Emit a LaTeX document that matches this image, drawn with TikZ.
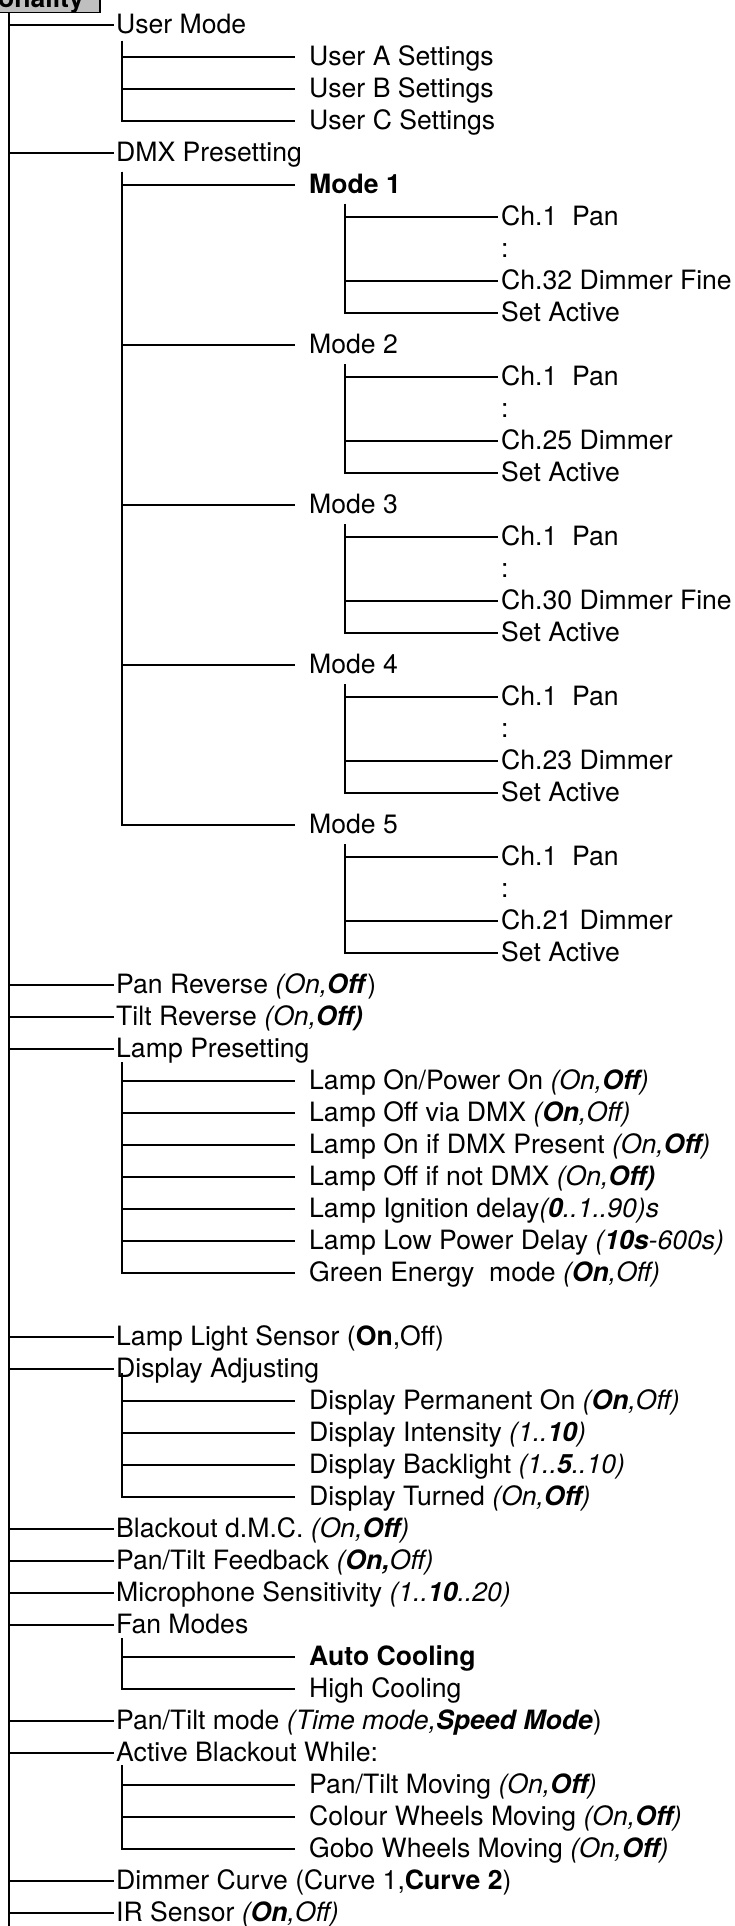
\documentclass[tikz,border=0pt]{standalone}
\usepackage{fontspec}
\setmainfont{TeX Gyre Heros}
\begin{document}
\begin{tikzpicture}[x=1pt,y=-1pt,
  lbl/.style={anchor=west,inner sep=0pt,text height=19pt,text depth=2pt,font=\fontsize{26.6}{32}\selectfont},
  conn/.style={line width=2.6pt},
  hdrbox/.style={draw=black,line width=1.3pt,fill=black!25}]
\useasboundingbox (0,0) rectangle (734,1926);
% header (cut off at the top)
\filldraw[hdrbox] (-5,-30) rectangle (100,12.5);
\begin{scope}
\clip (0,0) rectangle (99,11.5);
\node[anchor=base east,inner sep=0pt,font=\fontsize{26.6}{32}\selectfont\bfseries] (hdr) at (84,8) {Personality};
\end{scope}
\coordinate (tTop) at (9,13);
\coordinate (tBot) at (9,1926);
\draw[conn] (tTop) -- (tBot);

% ---------- level 1 ----------
\node[lbl] (um)  at (116,25)   {User Mode};
\node[lbl] (dmx) at (116,153)  {DMX Presetting};
\node[lbl] (pr)  at (116,985)  {Pan Reverse \textit{(On,}\textbf{\textit{Off}})};
\node[lbl] (tr)  at (116,1017) {Tilt Reverse \textit{(On,\textbf{Off)}}};
\node[lbl] (lp)  at (116,1049) {Lamp Presetting};
\node[lbl] (lls) at (116,1337) {Lamp Light Sensor (\textbf{On},Off)};
\node[lbl] (da)  at (116,1369) {Display Adjusting};
\node[lbl] (bo)  at (116,1529) {Blackout d.M.C. \textit{(On,\textbf{Off})}};
\node[lbl] (ptf) at (116,1561) {Pan/Tilt Feedback \textit{(\textbf{On,}Off)}};
\node[lbl] (mic) at (116,1593) {Microphone Sensitivity \textit{(1..\textbf{10}..20)}};
\node[lbl] (fan) at (116,1625) {Fan Modes};
\node[lbl] (ptm) at (116,1721) {Pan/Tilt mode \textit{(Time mode,\textbf{Speed Mode}})};
\node[lbl] (ab)  at (116,1753) {Active Blackout While:};
\node[lbl] (dc)  at (116,1881) {Dimmer Curve (Curve 1,\textbf{Curve 2})};
\node[lbl] (ir)  at (116,1913) {IR Sensor \textit{(\textbf{On},Off)}};
\foreach \n in {um,dmx,pr,tr,lp,lls,da,bo,ptf,mic,fan,ptm,ab,dc,ir}
  \draw[conn] (tTop |- \n.west) -- ([xshift=-2pt]\n.west);

% ---------- User Mode ----------
\coordinate (gU) at (122,41);
\node[lbl] (ua) at (309,57)  {User A Settings};
\node[lbl] (ub) at (309,89)  {User B Settings};
\node[lbl] (uc) at (309,121) {User C Settings};
\foreach \n in {ua,ub,uc}
  \draw[conn] (gU) |- ([xshift=-14pt]\n.west);

% ---------- DMX Presetting ----------
\coordinate (gD) at (122,172);
\node[lbl] (m1) at (309,185) {\textbf{Mode 1}};
\node[lbl] (m2) at (309,345) {Mode 2};
\node[lbl] (m3) at (309,505) {Mode 3};
\node[lbl] (m4) at (309,665) {Mode 4};
\node[lbl] (m5) at (309,825) {Mode 5};
\foreach \n in {m1,m2,m3,m4,m5}
  \draw[conn] (gD) |- ([xshift=-14pt]\n.west);

\foreach \i/\y/\last in {1/185/{Ch.32 Dimmer Fine},2/345/{Ch.25 Dimmer},3/505/{Ch.30 Dimmer Fine},4/665/{Ch.23 Dimmer},5/825/{Ch.21 Dimmer}}{
  \coordinate (g\i) at (345,\y+19);
  \node[lbl] (c\i a) at (501,\y+32)  {Ch.1~ Pan};
  \node[lbl] (c\i d) at (501,\y+64)  {:};
  \node[lbl] (c\i b) at (501,\y+96)  {\last};
  \node[lbl] (c\i s) at (501,\y+128) {Set Active};
  \draw[conn] (g\i) |- ([xshift=-3pt]c\i a.west);
  \draw[conn] (g\i) |- ([xshift=-3pt]c\i b.west);
  \draw[conn] (g\i) |- ([xshift=-3pt]c\i s.west);
}

% ---------- Lamp Presetting ----------
\coordinate (gL) at (122,1062);
\node[lbl] (l1) at (309,1081) {Lamp On/Power On \textit{(On,\textbf{Off})}};
\node[lbl] (l2) at (309,1113) {Lamp Off via DMX \textit{(\textbf{On},Off)}};
\node[lbl] (l3) at (309,1145) {Lamp On if DMX Present \textit{(On,\textbf{Off})}};
\node[lbl] (l4) at (309,1177) {Lamp Off if not DMX \textit{(On,\textbf{Off)}}};
\node[lbl] (l5) at (309,1209) {Lamp Ignition delay\textit{(\textbf{0}..1..90)s}};
\node[lbl] (l6) at (309,1241) {Lamp Low Power Delay \textit{(\textbf{10s}-600s)}};
\node[lbl] (l7) at (309,1273) {Green Energy~ mode \textit{(\textbf{On},Off)}};
\foreach \n in {l1,l2,l3,l4,l5,l6,l7}
  \draw[conn] (gL) |- ([xshift=-14pt]\n.west);

% ---------- Display Adjusting ----------
\coordinate (gA) at (122,1373);
\node[lbl] (d1) at (309,1401) {Display Permanent On \textit{(\textbf{On},Off)}};
\node[lbl] (d2) at (309,1433) {Display Intensity \textit{(1..\textbf{10})}};
\node[lbl] (d3) at (309,1465) {Display Backlight \textit{(1..\textbf{5}..10)}};
\node[lbl] (d4) at (309,1497) {Display Turned \textit{(On,\textbf{Off})}};
\foreach \n in {d1,d2,d3,d4}
  \draw[conn] (gA) |- ([xshift=-14pt]\n.west);

% ---------- Fan Modes ----------
\coordinate (gF) at (122,1638);
\node[lbl] (f1) at (309,1657) {\textbf{Auto Cooling}};
\node[lbl] (f2) at (309,1689) {High Cooling};
\foreach \n in {f1,f2}
  \draw[conn] (gF) |- ([xshift=-14pt]\n.west);

% ---------- Active Blackout While ----------
\coordinate (gB) at (122,1765);
\node[lbl] (b1) at (309,1785) {Pan/Tilt Moving \textit{(On,\textbf{Off})}};
\node[lbl] (b2) at (309,1817) {Colour Wheels Moving \textit{(On,\textbf{Off})}};
\node[lbl] (b3) at (309,1849) {Gobo Wheels Moving \textit{(On,\textbf{Off})}};
\foreach \n in {b1,b2,b3}
  \draw[conn] (gB) |- ([xshift=-14pt]\n.west);
\end{tikzpicture}
\end{document}
